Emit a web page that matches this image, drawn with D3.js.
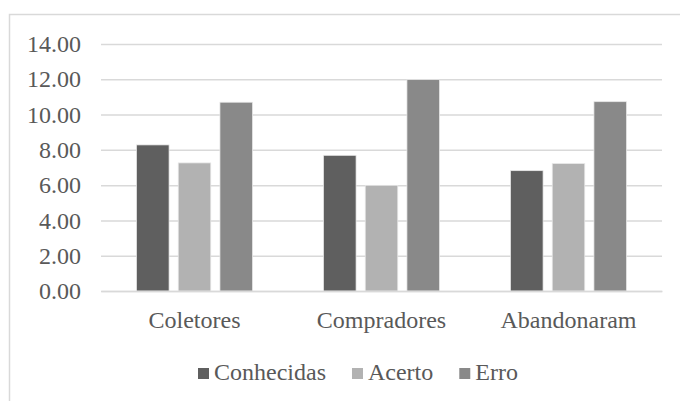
<!DOCTYPE html>
<html>
<head>
<meta charset="utf-8">
<script src="https://cdn.jsdelivr.net/npm/d3@7"></script>
<style>
  html, body { margin: 0; padding: 0; background: #fff; }
  svg { display: block; }
</style>
</head>
<body>
<svg id="chart" width="680" height="401"></svg>
<script>
// Group labels and series
const categories = ["Coletores", "Compradores", "Abandonaram"];
const seriesNames = ["Conhecidas", "Acerto", "Erro"];
const conhecidas = [8.28, 7.69, 6.82];
const acerto = [7.26, 5.99, 7.22];
const erro = [10.70, 11.98, 10.73];
const yTicks = [0, 2, 4, 6, 8, 10, 12, 14];
const seriesColors = ["#5f5f5f", "#b2b2b2", "#898989"];

const seriesValues = [conhecidas, acerto, erro];

const svg = d3.select("#chart");
const W = 680, H = 401;
const plot = { left: 101, right: 662, top: 44, bottom: 291 };
const textColor = "#595959";
const gridColor = "#d9d9d9";
const fontFamily = '"Liberation Serif", "Times New Roman", serif';
const fontSize = "24px";

function styleText(sel) {
  sel.attr("fill", textColor)
    .style("font-family", fontFamily)
    .style("font-size", fontSize);
}

// Chart area frame
svg.append("rect")
  .attr("x", 9.5).attr("y", 14.5)
  .attr("width", W + 20).attr("height", H + 20)
  .attr("fill", "#fff")
  .attr("stroke", gridColor).attr("stroke-width", 1.5);

const x0 = d3.scaleBand()
  .domain(categories)
  .range([plot.left, plot.right])
  .paddingInner(0.38).paddingOuter(0.19);

const x1 = d3.scaleBand()
  .domain(seriesNames)
  .range([0, x0.bandwidth()])
  .paddingInner(0.22).paddingOuter(0);

const y = d3.scaleLinear().domain([0, 14]).range([plot.bottom, plot.top]);

// Horizontal gridlines + value labels
const yAxis = d3.axisLeft(y)
  .tickValues(yTicks)
  .tickSize(-(plot.right - plot.left))
  .tickPadding(20)
  .tickFormat(d3.format(".2f"));

const gy = svg.append("g")
  .attr("transform", `translate(${plot.left},0)`)
  .call(yAxis);
gy.select(".domain").remove();
gy.selectAll(".tick line").attr("stroke", gridColor).attr("stroke-width", 1.5);
gy.selectAll(".tick text").call(styleText);

// Bars
const groups = svg.append("g").selectAll("g")
  .data(categories)
  .join("g")
  .attr("transform", c => `translate(${x0(c)},0)`);

groups.selectAll("rect")
  .data((c, i) => seriesNames.map((s, k) => ({ s, k, v: seriesValues[k][i] })))
  .join("rect")
  .attr("x", d => x1(d.s))
  .attr("width", x1.bandwidth())
  .attr("y", d => y(d.v))
  .attr("height", d => y(0) - y(d.v))
  .attr("fill", d => seriesColors[d.k])
  .attr("stroke", "#e8e8e8")
  .attr("stroke-width", 0.75);

// Category axis
const xAxis = d3.axisBottom(x0).tickSize(0);
const gx = svg.append("g")
  .attr("transform", `translate(0,${plot.bottom})`)
  .call(xAxis);
gx.select(".domain").attr("stroke", gridColor).attr("stroke-width", 1.5);
gx.selectAll(".tick text")
  .attr("y", 37).attr("dy", null)
  .call(styleText);

// Legend
const legend = svg.append("g").attr("transform", "translate(198,374)");
const items = legend.selectAll("g")
  .data(seriesNames)
  .join("g");
items.append("rect")
  .attr("y", -6).attr("width", 11).attr("height", 11)
  .attr("fill", (d, i) => seriesColors[i]);
items.append("text")
  .attr("x", 16).attr("y", 6)
  .call(styleText)
  .text(d => d);

// lay out legend items in one row
let offset = 0;
const gap = 26;
const widths = [];
items.each(function () { widths.push(this.getBBox().width); });
items.attr("transform", (d, i) => {
  const tx = offset;
  offset += widths[i] + gap;
  return `translate(${tx},0)`;
});
</script>
</body>
</html>
